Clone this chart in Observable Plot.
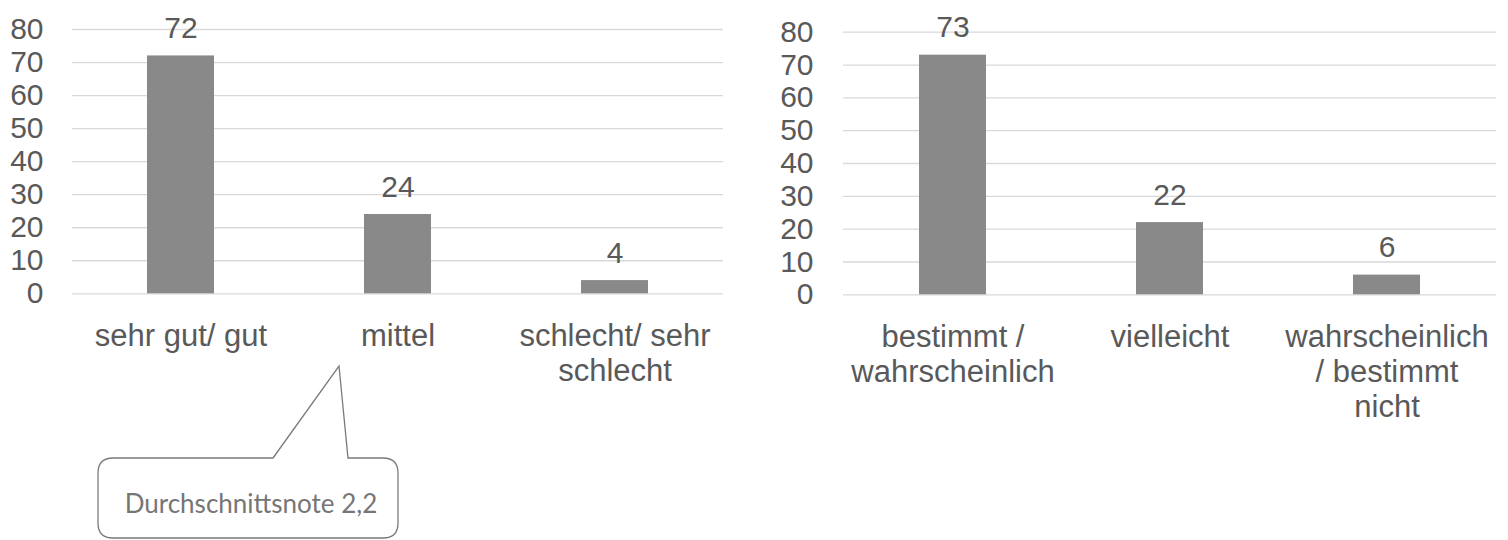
<!DOCTYPE html>
<html>
<head>
<meta charset="utf-8">
<script src="https://cdn.jsdelivr.net/npm/d3@7"></script>
<script src="https://cdn.jsdelivr.net/npm/@observablehq/plot@0.6"></script>
<style>
  html, body { margin: 0; padding: 0; background: #ffffff; }
  #wrap { position: relative; width: 1508px; height: 540px; overflow: hidden; background: #fff; }
  #left, #right { position: absolute; top: 0; }
  #left { left: 0; }
  #right { left: 760px; }
</style>
</head>
<body>
<div id="wrap"><div id="left"></div><div id="right"></div></div>
<script>
// ---- data ----
const leftCategories = ["sehr gut/ gut", "mittel", "schlecht/ sehr schlecht"];
const leftLabels = ["sehr gut/ gut", "mittel", "schlecht/ sehr\nschlecht"];
const leftValues = [72, 24, 4];

const rightCategories = ["bestimmt / wahrscheinlich", "vielleicht", "wahrscheinlich / bestimmt nicht"];
const rightLabels = ["bestimmt /\nwahrscheinlich", "vielleicht", "wahrscheinlich\n/ bestimmt\nnicht"];
const rightValues = [73, 22, 6];

const yTicks = [0, 10, 20, 30, 40, 50, 60, 70, 80];
const calloutText = "Durchschnittsnote 2,2";

// ---- styles ----
const barColor = "#898989";
const textColor = "#595959";
const gridColor = "#d9d9d9";
const font = "'Liberation Sans', Arial, Helvetica, sans-serif";

function makeChart(categories, labels, values, opts) {
  const rows = categories.map((c, i) => ({cat: c, value: values[i]}));
  const labelOf = new Map(categories.map((c, i) => [c, labels[i]]));
  return Plot.plot({
    width: opts.width,
    height: 540,
    marginLeft: opts.marginLeft,
    marginRight: opts.marginRight,
    marginTop: opts.marginTop,
    marginBottom: opts.marginBottom,
    style: {fontFamily: font, fontSize: "30px", color: textColor, background: "transparent", overflow: "visible"},
    x: {type: "band", domain: categories, paddingInner: 0.69, paddingOuter: 0.345},
    y: {domain: [0, 80]},
    marks: [
      Plot.ruleY(yTicks, {stroke: gridColor, strokeWidth: 1.3}),
      Plot.barY(rows, {x: "cat", y: "value", fill: barColor}),
      Plot.text(rows, {x: "cat", y: "value", text: d => String(d.value), dy: -18, lineAnchor: "bottom", fill: textColor, fontSize: 30}),
      Plot.axisY({ticks: yTicks, tickSize: 0, tickPadding: opts.yPad, label: null, fontSize: 30}),
      Plot.axisX({tickSize: 0, tickPadding: opts.xPad, label: null, fontSize: 31, lineHeight: 1.13, tickFormat: d => labelOf.get(d)})
    ]
  });
}

const left = makeChart(leftCategories, leftLabels, leftValues, {
  width: 760, marginLeft: 72, marginRight: 37, marginTop: 29, marginBottom: 246.7, yPad: 29, xPad: 27.5
});
const right = makeChart(rightCategories, rightLabels, rightValues, {
  width: 748, marginLeft: 83, marginRight: 12, marginTop: 31.7, marginBottom: 245.7, yPad: 30, xPad: 27.5
});

document.getElementById("left").appendChild(left);
document.getElementById("right").appendChild(right);

// ---- callout annotation on the left chart ----
(function () {
  const svg = d3.select(left);
  const x0 = 98, x1 = 398, y0 = 458, y1 = 538, r = 15;
  const p = d3.path();
  p.moveTo(273, y0);
  p.lineTo(339, 366);
  p.lineTo(348, y0);
  p.lineTo(x1 - r, y0);
  p.quadraticCurveTo(x1, y0, x1, y0 + r);
  p.lineTo(x1, y1 - r);
  p.quadraticCurveTo(x1, y1, x1 - r, y1);
  p.lineTo(x0 + r, y1);
  p.quadraticCurveTo(x0, y1, x0, y1 - r);
  p.lineTo(x0, y0 + r);
  p.quadraticCurveTo(x0, y0, x0 + r, y0);
  p.closePath();
  const g = svg.append("g");
  g.append("path").attr("d", p.toString())
    .attr("fill", "#ffffff").attr("stroke", "#7a7a7a").attr("stroke-width", 1.3);
  g.append("text").attr("x", 251).attr("y", 513)
    .attr("text-anchor", "middle")
    .attr("font-family", "Lato, 'Open Sans', sans-serif")
    .attr("font-size", 26)
    .attr("fill", "#767676")
    .text(calloutText);
})();
</script>
</body>
</html>
